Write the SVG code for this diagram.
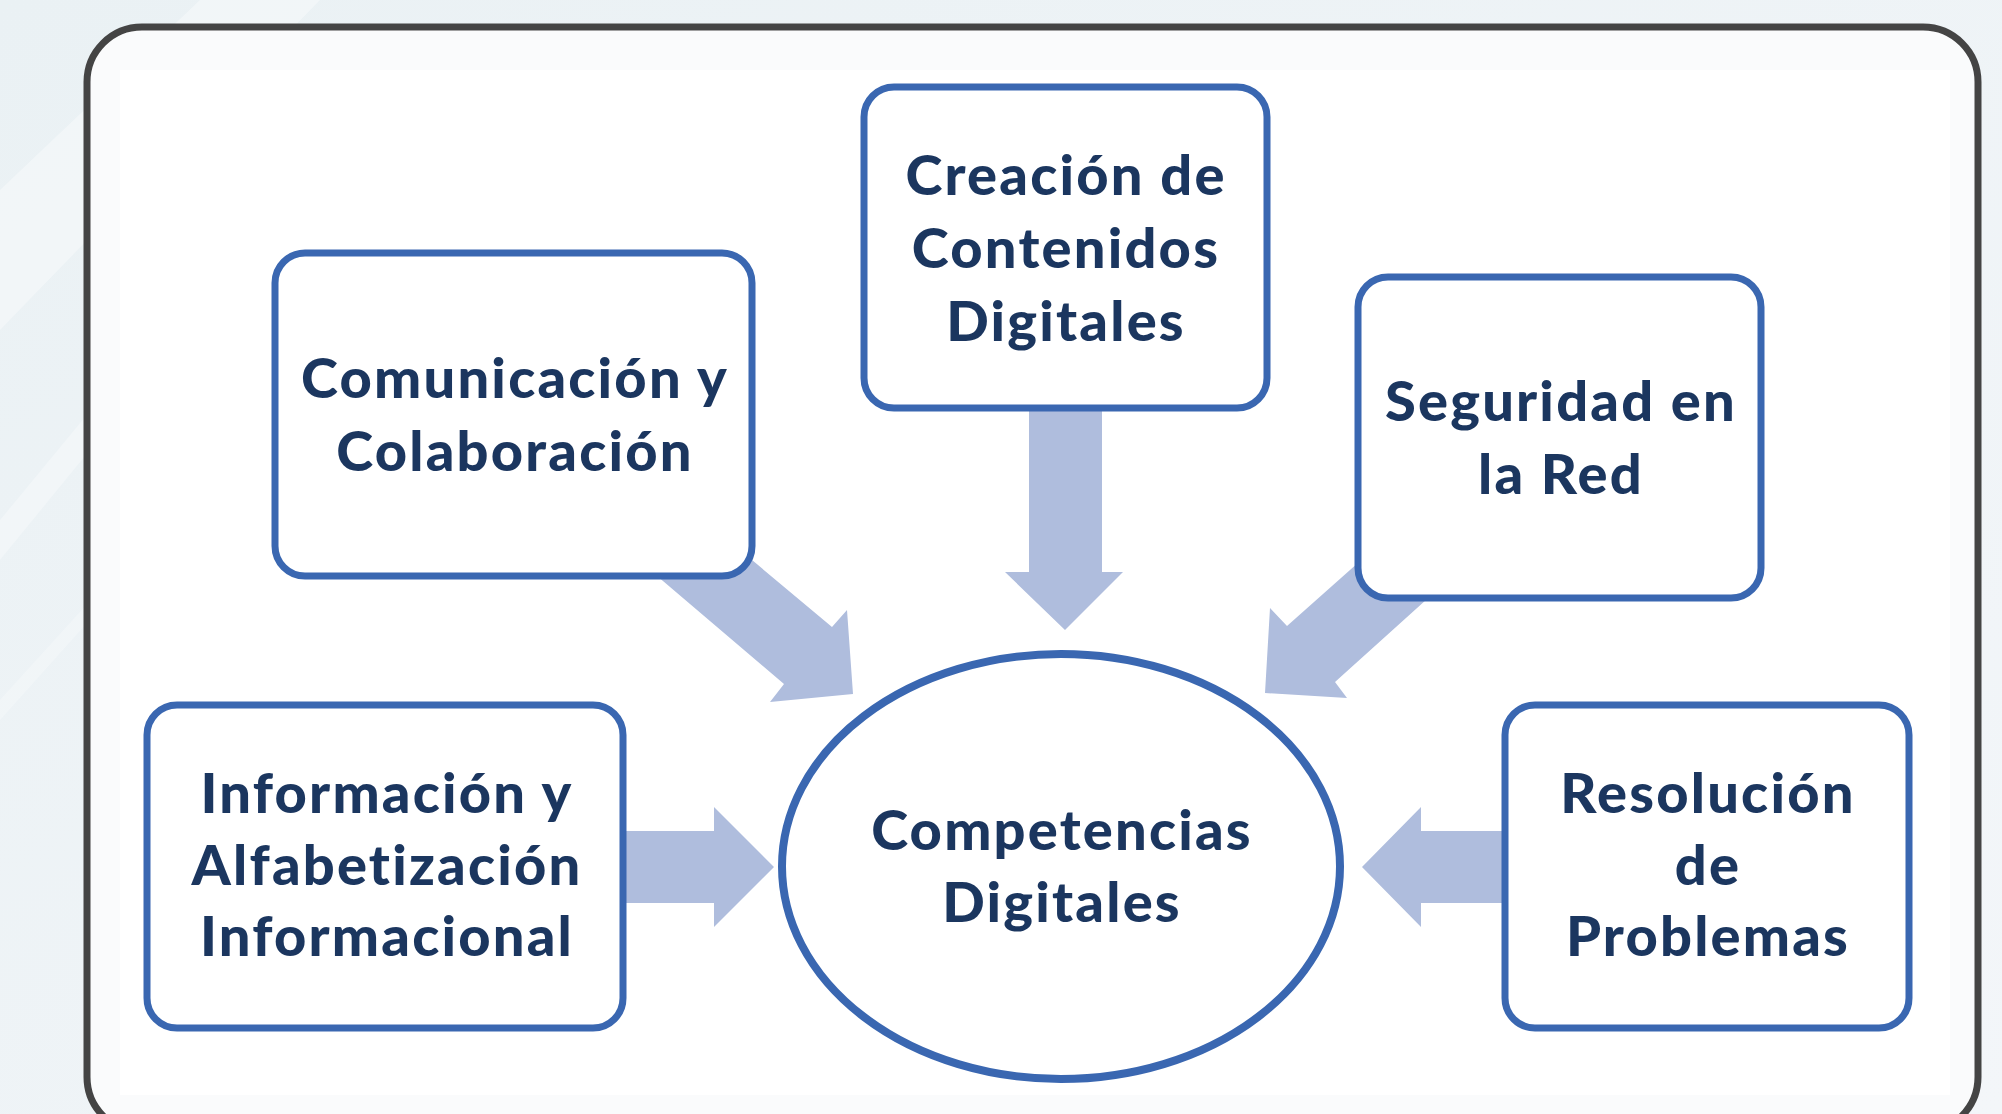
<svg xmlns="http://www.w3.org/2000/svg" width="2002" height="1114" viewBox="0 0 2002 1114">
  <style>
    .box { fill: #ffffff; stroke: #3a67b1; stroke-width: 7; }
    .ell { fill: #ffffff; stroke: #3a67b1; stroke-width: 8; }
    .arrow { fill: #afbddd; stroke: none; }
    .label { font-family: Lato, "Open Sans", "Liberation Sans", sans-serif; font-weight: 900; font-size: 56px; letter-spacing: 2.2px; fill: #1b365f; text-anchor: middle; }
  </style>
  <defs>
    <linearGradient id="bg" x1="0" y1="0" x2="1" y2="1">
      <stop offset="0" stop-color="#eaf1f4"/>
      <stop offset="1" stop-color="#f3f6f9"/>
    </linearGradient>
  </defs>
  <!-- background -->
  <rect x="0" y="0" width="2002" height="1114" fill="url(#bg)"/>
  <polygon points="0,190 200,0 320,0 0,330" fill="#ffffff" opacity="0.35"/>
  <polygon points="0,520 330,120 360,120 0,560" fill="#ffffff" opacity="0.3"/>
  <polygon points="0,700 200,480 215,480 0,720" fill="#ffffff" opacity="0.25"/>
  <!-- outer frame -->
  <rect x="87" y="27" width="1891" height="1105" rx="55" ry="55" fill="#fafbfc" stroke="#444444" stroke-width="7"/>
  <rect x="120" y="70" width="1830" height="1025" fill="#ffffff"/>

  <g id="connectors">
    <polygon class="arrow" points="1029,390 1102,390 1102,572 1123,572 1065,630 1005,572 1029,572"/>
    <polygon class="arrow" points="709,524 832,627 847,610 853,694 770,702 784,684 616,541"/>
    <polygon class="arrow" points="1395,530 1287,626 1270,608 1265,693 1347,698 1335,682 1467,563"/>
    <polygon class="arrow" points="600,831 714,831 714,807 774,867 714,927 714,903 600,903"/>
    <polygon class="arrow" points="1530,831 1421,831 1421,807 1362,867 1421,927 1421,903 1530,903"/>
  </g>

  <g id="node-comunicacion">
    <rect class="box" x="275" y="253" width="477" height="323" rx="30" ry="30"/>
    <text class="label" x="515" y="398">Comunicación y</text>
    <text class="label" x="515" y="471">Colaboración</text>
  </g>

  <g id="node-creacion">
    <rect class="box" x="864" y="87" width="403" height="321" rx="30" ry="30"/>
    <text class="label" x="1066" y="195">Creación de</text>
    <text class="label" x="1066" y="268">Contenidos</text>
    <text class="label" x="1066" y="341">Digitales</text>
  </g>

  <g id="node-seguridad">
    <rect class="box" x="1358" y="277" width="403" height="321" rx="30" ry="30"/>
    <text class="label" x="1561" y="421">Seguridad en</text>
    <text class="label" x="1561" y="494">la Red</text>
  </g>

  <g id="node-informacion">
    <rect class="box" x="147" y="705" width="476" height="323" rx="30" ry="30"/>
    <text class="label" x="387" y="813">Información y</text>
    <text class="label" x="387" y="885">Alfabetización</text>
    <text class="label" x="387" y="956">Informacional</text>
  </g>

  <g id="node-resolucion">
    <rect class="box" x="1505" y="705" width="404" height="323" rx="30" ry="30"/>
    <text class="label" x="1708" y="813">Resolución</text>
    <text class="label" x="1708" y="885">de</text>
    <text class="label" x="1708" y="956">Problemas</text>
  </g>

  <g id="node-competencias">
    <ellipse class="ell" cx="1061" cy="866.5" rx="279" ry="212.5"/>
    <text class="label" x="1062" y="850">Competencias</text>
    <text class="label" x="1062" y="922">Digitales</text>
  </g>
</svg>
